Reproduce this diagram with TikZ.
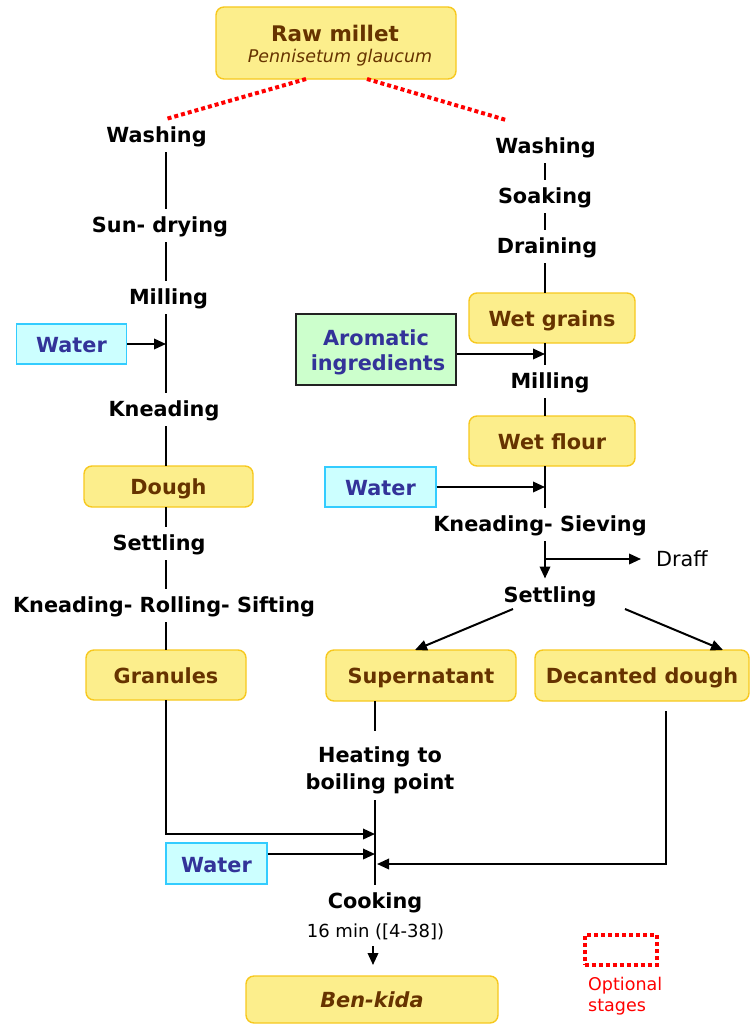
\documentclass[tikz,border=0pt]{standalone}
\usepackage{fontspec}
\setmainfont{DejaVu Sans}
\usetikzlibrary{arrows.meta}
\definecolor{grainfill}{HTML}{FCEE8C}
\definecolor{grainedge}{HTML}{F7C81E}
\definecolor{graintext}{HTML}{663300}
\definecolor{waterfill}{HTML}{CCFFFF}
\definecolor{wateredge}{HTML}{33CCFF}
\definecolor{inputtext}{HTML}{333399}
\definecolor{herbfill}{HTML}{CCFFCC}
\definecolor{herbedge}{HTML}{222222}
\definecolor{optred}{HTML}{FF0000}
\begin{document}
\begin{tikzpicture}[x=1pt,y=-1pt,
  every node/.style={font=\fontsize{20.8}{25}\selectfont\bfseries},
  product/.style={draw=grainedge, fill=grainfill, line width=1.4pt, rounded corners=8pt,
    text=graintext, inner sep=0pt, outer sep=0pt, text height=16.5pt, text depth=0pt},
  water/.style={draw=wateredge, fill=waterfill, line width=1.2pt, text=inputtext, inner sep=0pt,
    text height=17pt, text depth=0pt},
  herbs/.style={draw=herbedge, fill=herbfill, line width=1.2pt, inner sep=0pt},
  boxtext/.style={anchor=base, inner sep=0pt},
  stage/.style={anchor=base, inner sep=0pt, outer sep=6pt, text height=17.5pt, text depth=4pt},
  flow/.style={line width=2pt},
  feed/.style={line width=2pt, -{Triangle[length=12pt,width=10.5pt]}},
  optional/.style={draw=optred, line width=4pt, dash pattern=on 4pt off 3pt},
]
\useasboundingbox (0,0) rectangle (751,1025);

% raw material
\node[product, minimum width=240pt, minimum height=72pt] (raw) at (336,43) {};
\node[boxtext, text=graintext, font=\fontsize{21.5}{25}\selectfont\bfseries] (rawname) at (335,42) {Raw millet};
\node[boxtext, text=graintext, font=\fontsize{17.5}{20}\selectfont\mdseries\itshape] (rawlatin)
  at (340,63) {Pennisetum glaucum};

% dry route (left column)
\node[stage] (wash1) at (156.5,142) {Washing};
\node[stage] (sun) at (160,232) {Sun- drying};
\node[stage] (mill1) at (168.5,304) {Milling};
\node[water, minimum width=110pt, minimum height=40pt] (waterL) at (71.5,344) {Water};
\node[stage] (knead1) at (164,416) {Kneading};
\node[product, minimum width=169pt, minimum height=41pt] (dough) at (168.5,486.5) {Dough};
\node[stage] (settle1) at (159,550) {Settling};
\node[stage] (krs) at (164,612) {Kneading- Rolling- Sifting};
\node[product, minimum width=160pt, minimum height=50pt] (gran) at (166,675) {Granules};

% wet route (right column)
\node[stage] (wash2) at (545.5,153) {Washing};
\node[stage] (soak) at (545,203) {Soaking};
\node[stage] (drain) at (547,253) {Draining};
\node[product, minimum width=166pt, minimum height=50pt] (wetgr) at (552,318) {Wet grains};
\node[herbs, minimum width=160pt, minimum height=71pt] (arom) at (376,349.5) {};
\node[boxtext, text=inputtext] (aromA) at (376,345) {Aromatic};
\node[boxtext, text=inputtext] (aromB) at (378,370) {ingredients};
\node[stage] (mill2) at (550,388) {Milling};
\node[product, minimum width=166pt, minimum height=50pt] (wetfl) at (552,441) {Wet flour};
\node[water, minimum width=111pt, minimum height=40pt] (waterR) at (380.5,487) {Water};
\node[stage] (knsv) at (540,531) {Kneading- Sieving};
\node[stage, anchor=base west, font=\fontsize{20.8}{25}\selectfont\mdseries] (draff) at (650,566) {Draff};
\node[stage] (settle2) at (550,602) {Settling};
\node[product, minimum width=190pt, minimum height=51pt] (sup) at (421,675.5) {Supernatant};
\node[product, minimum width=214pt, minimum height=51pt] (dec) at (642,675.5) {Decanted dough};

% cooking
\node[anchor=north, align=center, inner sep=0pt, outer sep=6pt,
  font=\fontsize{20.8}{27}\selectfont\bfseries] (heat) at (380,741) {Heating to\\boiling point};
\node[water, minimum width=101pt, minimum height=41pt] (waterB) at (216.5,863.5) {Water};
\node[stage] (cook) at (375,908) {Cooking};
\node[stage, text height=14pt, text depth=3.5pt, font=\fontsize{18}{21}\selectfont\mdseries] (min)
  at (375.5,937) {16 min ([4-38])};
\node[product, minimum width=252pt, minimum height=47pt] (ben) at (372,999.5) {\itshape Ben-kida};

% legend
\node[optional, minimum width=72pt, minimum height=30pt, inner sep=0pt] (legend) at (620.5,950) {};
\node[anchor=north west, inner sep=0pt, align=left, text=optred,
  font=\fontsize{17.5}{21}\selectfont\mdseries] (legtext) at (588,976.5) {Optional\\stages};

% column axes and junctions
\coordinate (L) at (166,0);
\coordinate (R) at (545,0);
\coordinate (C) at (375,0);
\coordinate (optL) at (166,119);
\coordinate (optR) at (506,120);
\coordinate (br) at (545,559);
\coordinate (gjoin) at (375,834);
\coordinate (wjoin) at (375,854);
\coordinate (djoin) at (377,864);
\coordinate (cookout) at (373,946);
\coordinate (aromout) at ([shift={(0,4.5)}]arom.east);
\coordinate (waterBout) at ([shift={(0,-9.5)}]waterB.east);

% optional washing
\draw[optional] ([xshift=-30pt]raw.south) -- (optL);
\draw[optional] ([xshift=31pt]raw.south) -- (optR);

% dry route connectors
\draw[flow] (wash1.south -| L) -- (sun.north -| L);
\draw[flow] (sun.south -| L) -- (mill1.north -| L);
\draw[flow] (mill1.south -| L) -- (knead1.north -| L);
\draw[feed] (waterL.east) -- (waterL.east -| L);
\draw[flow] (knead1.south -| L) -- (dough.north -| L);
\draw[flow] (dough.south -| L) -- (settle1.north -| L);
\draw[flow] (settle1.south -| L) -- (krs.north -| L);
\draw[flow] (krs.south -| L) -- (gran.north -| L);
\draw[feed] (gran.south) |- (gjoin);

% wet route connectors
\draw[flow] (wash2.south -| R) -- (soak.north -| R);
\draw[flow] (soak.south -| R) -- (drain.north -| R);
\draw[flow] (drain.south -| R) -- (wetgr.north -| R);
\draw[flow] (wetgr.south -| R) -- (mill2.north -| R);
\draw[feed] (aromout) -- (aromout -| R);
\draw[flow] (mill2.south -| R) -- (wetfl.north -| R);
\draw[flow] (wetfl.south -| R) -- (knsv.north -| R);
\draw[feed] (waterR.east) -- (waterR.east -| R);
\draw[feed] (knsv.south -| R) -- (settle2.north -| R);
\draw[feed, shorten >=9pt] (br) -- (br -| draff.west);
\draw[feed] ([shift={(-37,-3)}]settle2.south) -- ([xshift=-6pt]sup.north);
\draw[feed] ([shift={(75,-3)}]settle2.south) -- ([xshift=81pt]dec.north);

% cooking connectors
\draw[flow, shorten >=10pt] (sup.south -| C) -- (heat.north -| C);
\draw[flow] (heat.south -| C) -- (cook.north -| C);
\draw[feed] (waterBout) -- (wjoin);
\draw[feed] ([shift={(24,10)}]dec.south) |- (djoin);
\draw[feed, shorten >=11pt] (cookout) -- (cookout |- ben.north);
\end{tikzpicture}
\end{document}
